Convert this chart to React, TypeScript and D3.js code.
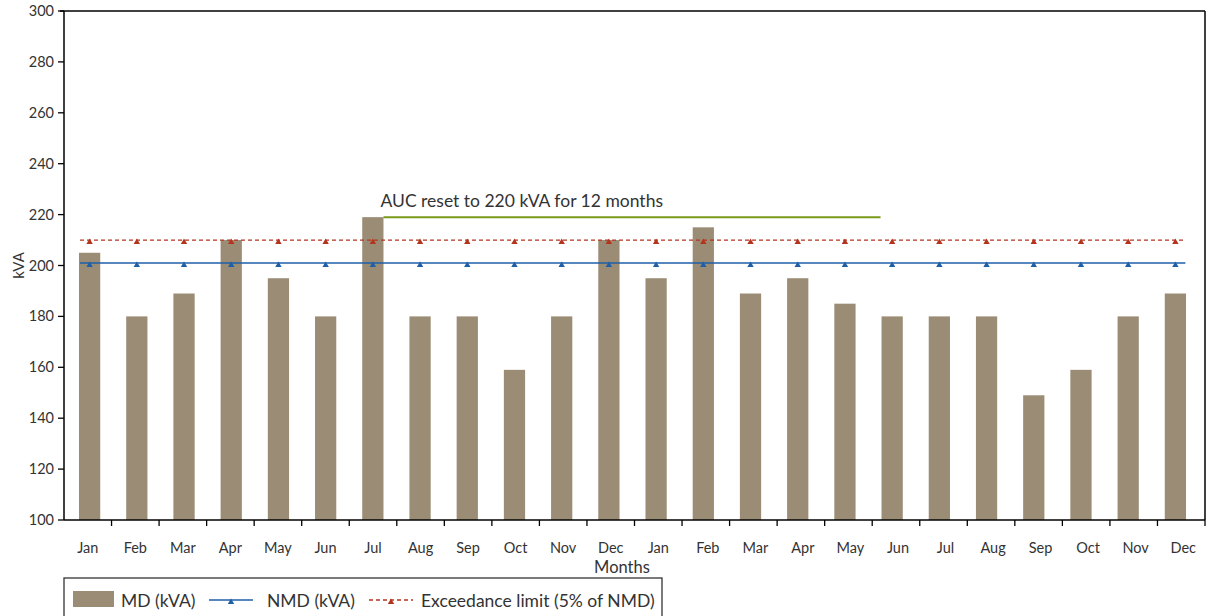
import React from "react";
import * as d3 from "d3";

const months = ["Jan","Feb","Mar","Apr","May","Jun","Jul","Aug","Sep","Oct","Nov","Dec","Jan","Feb","Mar","Apr","May","Jun","Jul","Aug","Sep","Oct","Nov","Dec"];
const mdValues = [205,180,189,210,195,180,219,180,180,159,180,210,195,215,189,195,185,180,180,180,149,159,180,189];
const nmdValues = months.map(() => 201);
const exceedValues = months.map(() => 210);
const yTicks = [100,120,140,160,180,200,220,240,260,280,300];
const annotation = { text: "AUC reset to 220 kVA for 12 months", value: 219, startIdx: 6, endIdx: 17 };

const W = 1209, H = 616;
const M = { left: 64, right: 1205, top: 11, bottom: 520 };
const CAT = { start: 66, end: 1199 };
const FONT = "Lato, 'Open Sans', sans-serif";
const BAR = "#9b8c75";
const BLUE = "#1f5fa8";
const RED = "#b5341e";
const GREEN = "#7a9a1a";

export default function App() {
  const keys = months.map((m, i) => `${m}-${i}`);
  const x = d3.scaleBand<string>().domain(keys).range([CAT.start, CAT.end]).paddingInner(0.55).paddingOuter(0.275);
  const xo = d3.scaleBand<string>().domain(keys).range([CAT.start, CAT.end]).padding(0);
  const xa = d3.scaleBand<string>().domain(keys).range([M.left, M.right]).padding(0);
  const y = d3.scaleLinear().domain([100, 300]).range([M.bottom, M.top]);
  const step = xo.step();
  const cx = (i: number) => (xo(keys[i]) as number) + step / 2;
  const ax = (i: number) => (xa(keys[i]) as number) + xa.step() / 2;
  const lineStart = M.left + 16;
  const lineEnd = cx(months.length - 1) + 10;
  const tri = (px: number, py: number) => `M${px - 3.2},${py + 3} L${px + 3.2},${py + 3} L${px},${py - 2.5} Z`;

  const annX1 = (x(keys[annotation.startIdx]) as number) + x.bandwidth();
  const annX2 = (xo(keys[annotation.endIdx]) as number) + 12;

  return (
    <svg width={W} height={H} style={{ display: "block", position: "absolute", left: 0, top: 0 }} fontFamily={FONT}>
      <rect width={W} height={H} fill="#fff" />
      {/* frame */}
      <line x1={M.left - 4} x2={M.right} y1={M.top} y2={M.top} stroke="#000" strokeWidth={1.5} />
      <line x1={M.right} x2={M.right} y1={M.top} y2={M.bottom} stroke="#000" strokeWidth={1.5} />
      {/* bars */}
      {mdValues.map((v, i) => (
        <rect key={i} x={x(keys[i])} y={y(v)} width={x.bandwidth()} height={M.bottom - y(v)} fill={BAR} />
      ))}
      {/* exceedance */}
      <line x1={lineStart} x2={lineEnd} y1={y(exceedValues[0])} y2={y(exceedValues[0])} stroke={RED} strokeWidth={1.3} strokeDasharray="4,3" />
      {exceedValues.map((v, i) => <path key={i} d={tri(cx(i), y(v) + 1)} fill={RED} />)}
      {/* nmd */}
      <line x1={lineStart} x2={lineEnd} y1={y(nmdValues[0])} y2={y(nmdValues[0])} stroke={BLUE} strokeWidth={1.5} />
      {nmdValues.map((v, i) => <path key={i} d={tri(cx(i), y(v) + 1)} fill={BLUE} />)}
      {/* annotation */}
      <line x1={annX1} x2={annX2} y1={y(annotation.value)} y2={y(annotation.value)} stroke={GREEN} strokeWidth={2} />
      <text x={annX1 - 3} y={y(annotation.value) - 10} fontSize={17.5} fill="#333">{annotation.text}</text>
      {/* y axis */}
      <line x1={M.left} x2={M.left} y1={M.top} y2={M.bottom} stroke="#000" strokeWidth={1.5} />
      {yTicks.map(t => (
        <g key={t}>
          <line x1={M.left - 6} x2={M.left} y1={y(t)} y2={y(t)} stroke="#000" strokeWidth={1.3} />
          <text x={M.left - 10} y={y(t)} dy="0.35em" textAnchor="end" fontSize={14.5} fill="#333">{t}</text>
        </g>
      ))}
      <text transform={`translate(24,${(M.top + M.bottom) / 2}) rotate(-90)`} textAnchor="middle" fontSize={15} fill="#333">kVA</text>
      {/* x axis */}
      <line x1={M.left} x2={M.right} y1={M.bottom} y2={M.bottom} stroke="#000" strokeWidth={1.5} />
      {d3.range(1, months.length + 1).map(i => {
        const tx = M.left + i * xa.step();
        return <line key={i} x1={tx} x2={tx} y1={M.bottom} y2={M.bottom + 6} stroke="#000" strokeWidth={1.3} />;
      })}
      {months.map((m, i) => (
        <text key={i} x={ax(i) + (i > 12 ? 2 : 0)} y={553} textAnchor="middle" fontSize={14.5} fill="#333">{m}</text>
      ))}
      <text x={622} y={573} textAnchor="middle" fontSize={16.5} fill="#333">Months</text>
      {/* legend */}
      <rect x={64} y={578} width={598} height={50} fill="#fff" stroke="#333" strokeWidth={1.3} />
      <rect x={73} y={591} width={41} height={16} fill={BAR} />
      <text x={121} y={607} fontSize={17.5} fill="#333">MD (kVA)</text>
      <line x1={209} x2={253} y1={600} y2={600} stroke={BLUE} strokeWidth={1.5} />
      <path d={tri(231, 601)} fill={BLUE} />
      <text x={267} y={607} fontSize={17.5} fill="#333">NMD (kVA)</text>
      <line x1={369} x2={413} y1={600} y2={600} stroke={RED} strokeWidth={1.3} strokeDasharray="4,3" />
      <path d={tri(391, 601)} fill={RED} />
      <text x={421} y={607} fontSize={17.5} fill="#333">Exceedance limit (5% of NMD)</text>
    </svg>
  );
}
